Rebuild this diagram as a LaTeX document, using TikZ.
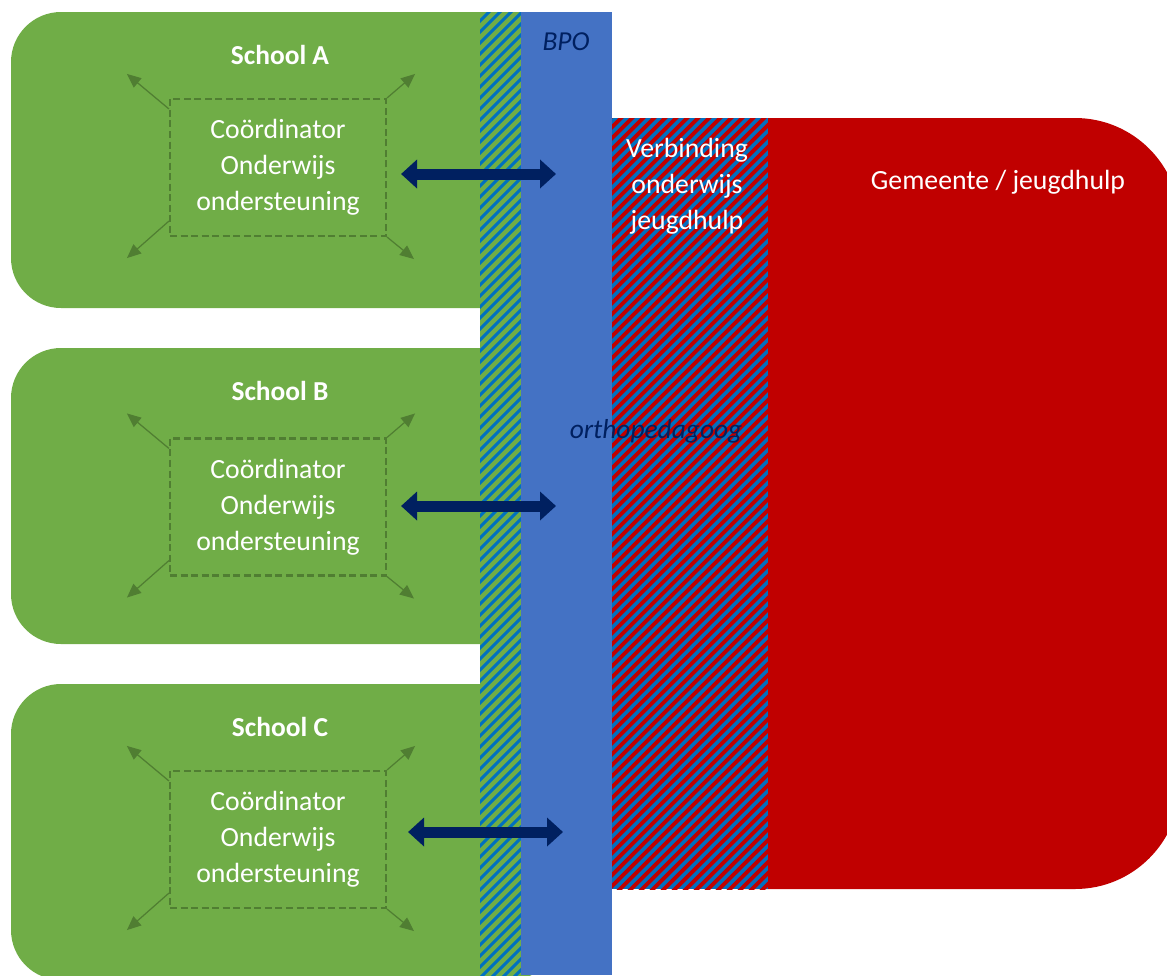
\documentclass[tikz,border=0pt]{standalone}
\usepackage{fontspec}
\setmainfont{Carlito}
\usetikzlibrary{arrows.meta,positioning,calc}
\definecolor{SchoolGreen}{HTML}{70AD47}
\definecolor{DashGreen}{HTML}{507E32}
\definecolor{BpoBlue}{HTML}{4472C4}
\definecolor{HatchBlue}{HTML}{0070C0}
\definecolor{CityRed}{HTML}{C00000}
\definecolor{ArrowNavy}{HTML}{002060}

\begin{document}
\begin{tikzpicture}[
  x=0.02cm, y=-0.02cm,
  txt/.style={font=\fontsize{15.8}{20.5}\selectfont, text=white, align=center},
  title/.style={txt, font=\fontsize{15.6}{20.5}\selectfont\bfseries},
  tag/.style={font=\fontsize{15.6}{20.5}\selectfont\itshape, text=ArrowNavy},
  coordbox/.style={txt, draw=DashGreen, line width=1.2pt, dash pattern=on 4pt off 2pt,
                   minimum width=4.32cm, minimum height=2.74cm},
  biarrow/.style={{Triangle[length=0.32cm,width=0.56cm]}-{Triangle[length=0.32cm,width=0.56cm]},
                  line width=0.22cm, draw=ArrowNavy},
  spread/.style={-{Triangle[length=0.28cm,width=0.24cm]}, draw=DashGreen, line width=0.7pt},
  stripe/.style={line width=0.06cm}
]
\useasboundingbox (0,0) rectangle (1167,975);

% schools
\foreach \s/\top/\mid in {A/12/167.5, B/348/507, C/684/839.5} {
  \fill[SchoolGreen, rounded corners=1cm] (11,\top) rectangle (560,\top+296);
  \node[title] (title\s) at (280,\top+43) {School \s};
  \node[coordbox] (co\s) at (278,\mid) {Coördinator\\Onderwijs\\ondersteuning};
  \draw[spread] ($(co\s.north west)+(0,11)$) -- +(-42,-35);
  \draw[spread] (co\s.north east) -- +(28,-24);
  \draw[spread] ($(co\s.south west)+(0,-16)$) -- +(-42,37);
  \draw[spread] (co\s.south east) -- +(27,22);
}

% municipality
\fill[CityRed, rounded corners=2.1cm] (640,118) rectangle (1180,889);
\fill[HatchBlue] (612,118) rectangle (768,889);
\begin{scope}
  \clip (612,118) rectangle (768,889);
  \foreach \k in {0,...,86}
    \draw[stripe, CityRed, line width=0.078cm] (610,118+11*\k) -- ++(170,-170);
\end{scope}

% strips
\fill[SchoolGreen] (480,12) rectangle (521,975);
\begin{scope}
  \clip (480,12) rectangle (521,975);
  \foreach \k in {0,...,93}
    \draw[stripe, HatchBlue] (478,12+11*\k) -- ++(50,-50);
\end{scope}
\fill[BpoBlue] (521,12) rectangle (612,975);

\node[tag] (bpo) at (566,42) {BPO};
\node[tag] (ortho) at (656,431) {orthopedagoog};
\node[txt] (link) at (687,186) {Verbinding\\onderwijs\\jeugdhulp};
\node[txt] (city) at (998,182) {Gemeente / jeugdhulp};

% links to BPO
\foreach \s/\arr/\ax in {A/174/0, B/506/0, C/832/7} {
  \coordinate (bpo\s) at (556+\ax,\arr);
  \draw[biarrow] ($(co\s.east |- bpo\s)+(14+\ax,0)$) -- (bpo\s);
}
\end{tikzpicture}
\end{document}
